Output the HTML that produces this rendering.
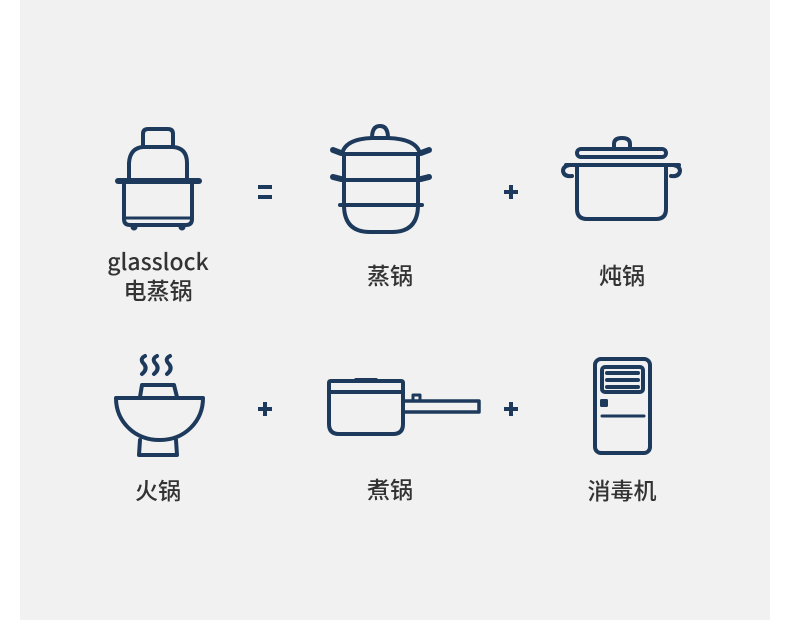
<!DOCTYPE html>
<html><head><meta charset="utf-8"><style>
html,body{margin:0;padding:0;background:#fff;width:790px;height:621px;overflow:hidden}
svg{display:block}
text{font-family:"Noto Sans CJK SC","Liberation Sans",sans-serif;fill:#333;font-size:23px;font-weight:500}
</style></head><body>
<svg width="790" height="621" viewBox="0 0 790 621">
<defs>
<radialGradient id="sh" cx="0.5" cy="0" r="0.5">
<stop offset="0" stop-color="#d8d8d8"/><stop offset="0.6" stop-color="#e6e6e6" stop-opacity="0.6"/><stop offset="1" stop-color="#f1f1f1" stop-opacity="0"/>
</radialGradient>
</defs>
<rect x="20" y="0" width="750" height="620" fill="#f1f1f1"/>
<ellipse cx="390" cy="-10" rx="270" ry="75" fill="url(#sh)"/>
<g fill="none" stroke="#1d3a5c" stroke-width="4" stroke-linecap="round" stroke-linejoin="round">
<path d="M143 147 V134 Q143 129 148 129 H168 Q173 129 173 134 V147"/>
<path d="M129 181 V163 Q130 148 143 147 H173 Q187 148 187 163 V181"/>
<line x1="118" y1="181" x2="199" y2="181" stroke-width="6"/>
<path d="M124 181 V219 Q124 225 130 225 H186 Q192 225 192 219 V181"/>
<line x1="124" y1="218" x2="192" y2="218" stroke-width="3"/>
<line x1="258" y1="187" x2="272" y2="187" stroke-linecap="butt"/>
<line x1="258" y1="197" x2="272" y2="197" stroke-linecap="butt"/>
<path d="M372 138 Q372 126 380 126 Q388 126 388 138"/>
<path d="M342 154 Q345 139 372 138 H388 Q417 139 420 154"/>
<path d="M344 154 V205 Q344 232 370 232 H392 Q418 232 418 205 V154"/>
<line x1="342" y1="154" x2="420" y2="154"/>
<line x1="342" y1="180" x2="420" y2="180"/>
<line x1="340" y1="205" x2="422" y2="205"/>
<line x1="333" y1="150" x2="341" y2="153" stroke-width="6"/>
<line x1="421" y1="153" x2="429" y2="150" stroke-width="6"/>
<line x1="333" y1="177" x2="341" y2="179" stroke-width="6"/>
<line x1="421" y1="179" x2="429" y2="177" stroke-width="6"/>
<line x1="504" y1="192" x2="518" y2="192" stroke-linecap="butt"/>
<line x1="511" y1="185" x2="511" y2="199" stroke-linecap="butt"/>
<path d="M614 149 V144 Q614 138 622 138 Q630 138 630 144 V149"/>
<rect x="577" y="149" width="89" height="8" rx="4"/>
<line x1="566" y1="165" x2="679" y2="165"/>
<path d="M577 165 V209 Q577 219 587 219 H656 Q666 219 666 209 V165"/>
<path d="M570 165 Q563 166 563 171 Q564 177 572 176"/>
<path d="M673 165 Q680 166 680 171 Q679 177 671 176"/>
<path d="M145 356 Q139 359 144 364 Q148 369 142 374"/>
<path d="M157 356 Q151 359 156 364 Q160 369 154 374"/>
<path d="M170 356 Q164 359 169 364 Q173 369 167 374"/>
<path d="M140 397 L142 385 H174 L177 397"/>
<path d="M116 398 H203 C203 421 185 440 160 440 C134 440 116 421 116 398 Z"/>
<path d="M140 440 L139 455 H177 L176 440"/>
<line x1="258" y1="409" x2="272" y2="409" stroke-linecap="butt"/>
<line x1="265" y1="402" x2="265" y2="416" stroke-linecap="butt"/>
<path d="M329 392 V383 Q329 381 331 381 H401 Q403 381 403 383 V392"/>
<line x1="356" y1="380" x2="376" y2="380"/>
<line x1="329" y1="392" x2="403" y2="392"/>
<path d="M329 392 V424 Q329 434 339 434 H393 Q403 434 403 424 V392"/>
<path d="M403 401 H479 V412 H403" stroke-width="3.5"/>
<path d="M413 400 V395 H420 V400" stroke-width="3"/>
<line x1="504" y1="409" x2="518" y2="409" stroke-linecap="butt"/>
<line x1="511" y1="402" x2="511" y2="416" stroke-linecap="butt"/>
<rect x="595" y="359" width="55" height="94" rx="6"/>
<rect x="602" y="367" width="41" height="25" rx="3"/>
<line x1="607" y1="373" x2="638" y2="373"/>
<line x1="607" y1="380" x2="638" y2="380"/>
<line x1="607" y1="387" x2="638" y2="387"/>
<line x1="602" y1="416" x2="644" y2="416" stroke-width="3"/>
</g>
<g fill="#1d3a5c">
<rect x="600" y="399" width="8" height="8" rx="1.5"/>
<circle cx="134" cy="227" r="3.5"/>
<circle cx="182" cy="227" r="3.5"/>
</g>
<g text-anchor="middle">
<text x="158" y="270">glasslock</text>
<text x="158" y="299">电蒸锅</text>
<text x="390" y="284">蒸锅</text>
<text x="622" y="284">炖锅</text>
<text x="158" y="499">火锅</text>
<text x="390" y="498">煮锅</text>
<text x="622" y="499">消毒机</text>
</g>
</svg>
</body></html>
